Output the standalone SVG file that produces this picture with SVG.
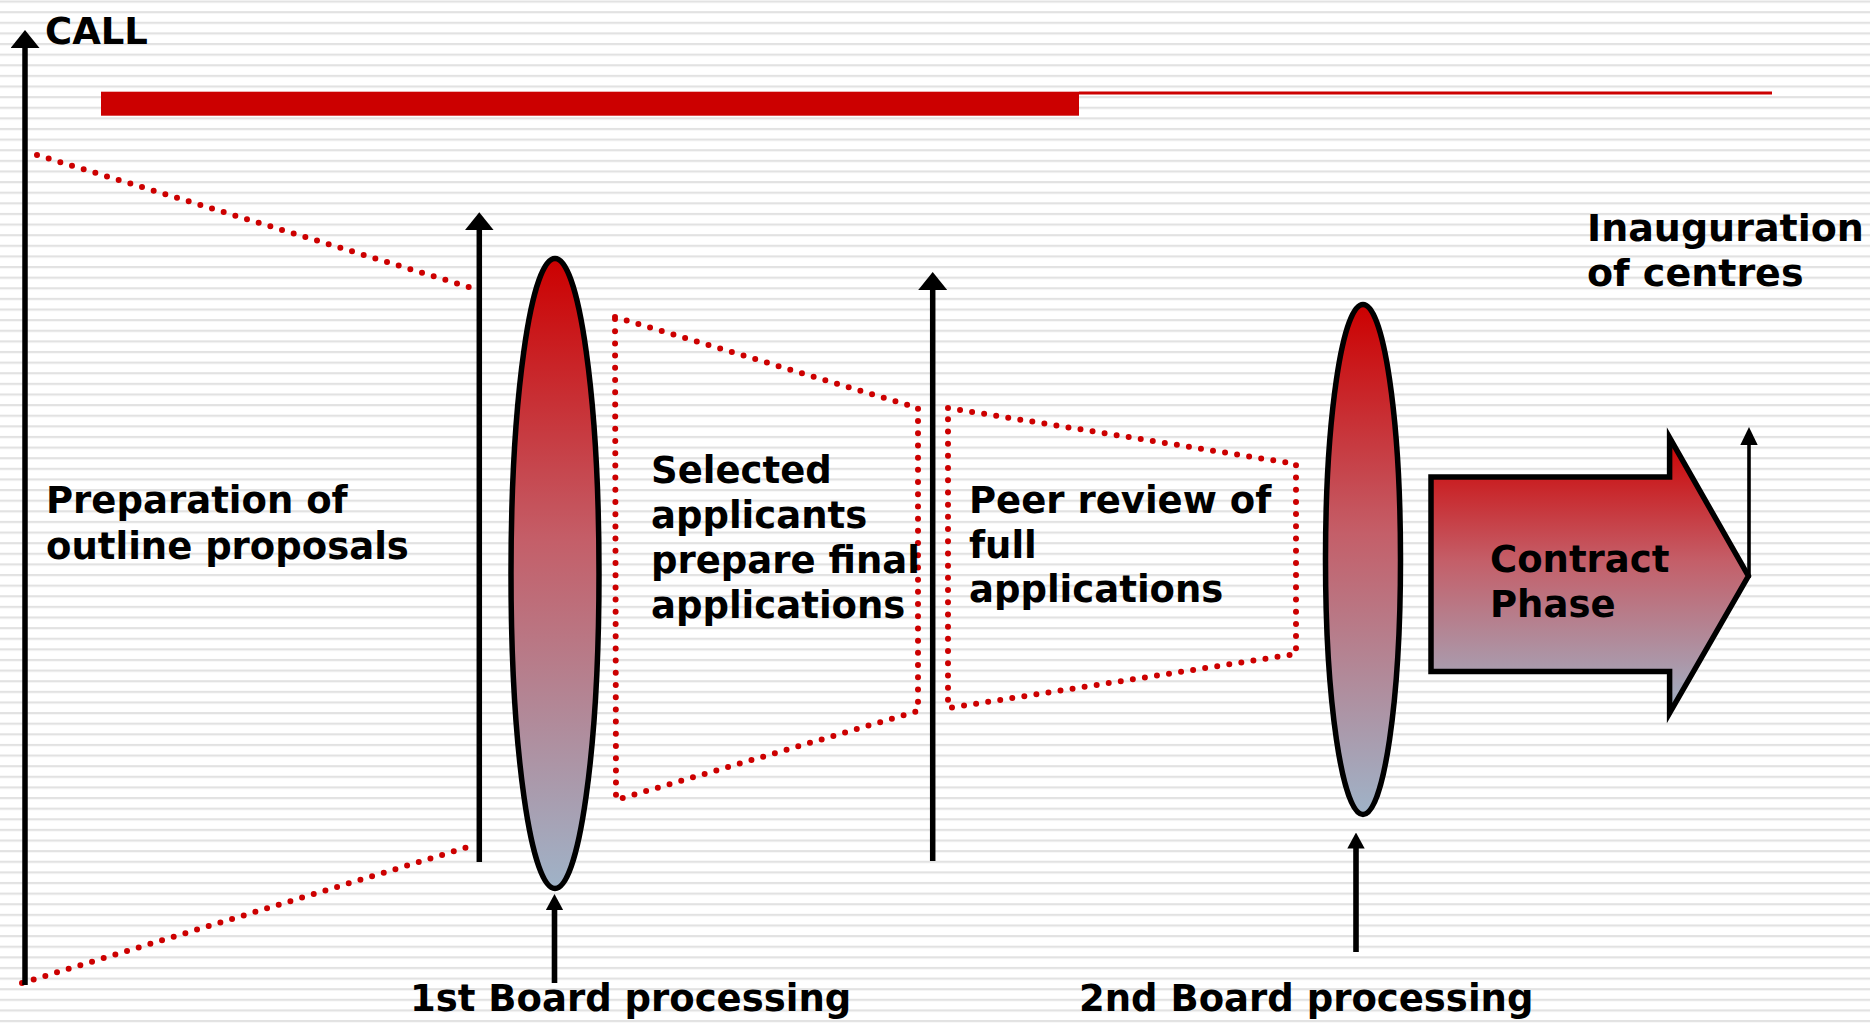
<svg xmlns="http://www.w3.org/2000/svg" width="1870" height="1024" viewBox="0 0 1870 1024">
  <defs>
    <pattern id="ruled" x="0" y="0.5" width="1870" height="10.62" patternUnits="userSpaceOnUse">
      <rect x="0" y="0" width="1870" height="2.2" fill="#e2e2e2"/>
    </pattern>
    <linearGradient id="fade" x1="0" y1="0" x2="0" y2="1">
      <stop offset="0" stop-color="#cc0000"/>
      <stop offset="0.45" stop-color="#c45f69"/>
      <stop offset="1" stop-color="#9fb3c8"/>
    </linearGradient>
    <marker id="headLarge" markerUnits="userSpaceOnUse" viewBox="0 0 18 29" markerWidth="18" markerHeight="29" refX="1" refY="14.5" orient="auto">
      <path d="M0,0 L18,14.5 L0,29 Z" fill="#000"/>
    </marker>
    <marker id="headSmall" markerUnits="userSpaceOnUse" viewBox="0 0 16 17.4" markerWidth="16" markerHeight="17.4" refX="1" refY="8.7" orient="auto">
      <path d="M0,0 L16,8.7 L0,17.4 Z" fill="#000"/>
    </marker>
    <marker id="headThin" markerUnits="userSpaceOnUse" viewBox="0 0 18 17.4" markerWidth="18" markerHeight="17.4" refX="1" refY="8.7" orient="auto">
      <path d="M0,0 L18,8.7 L0,17.4 Z" fill="#000"/>
    </marker>
  </defs>
  <style>
    text { font-family: "DejaVu Sans", Verdana, "Liberation Sans", sans-serif; font-weight: bold; font-size: 37px; fill: #000; }
    .dots { fill: none; stroke: #cc0000; stroke-width: 6; stroke-linecap: round; stroke-linejoin: round; stroke-dasharray: 0 12.2; }
    .axis { stroke: #000; stroke-width: 5.5; fill: none; }
    .pin { stroke: #000; stroke-width: 5.6; fill: none; }
    .lens { fill: url(#fade); stroke: #000; stroke-width: 5.5; }
  </style>

  <!-- ruled paper background -->
  <rect width="1870" height="1024" fill="#ffffff"/>
  <rect width="1870" height="1024" fill="url(#ruled)"/>

  <!-- timeline bar -->
  <g id="timeline">
    <rect x="101" y="91.7" width="978" height="24" fill="#cc0000"/>
    <rect x="1079" y="91.5" width="693" height="3" fill="#cc0000"/>
  </g>

  <!-- funnel outlines -->
  <g id="funnels">
    <polyline class="dots" points="37,155 472,288"/>
    <polyline class="dots" points="22,983 468,847"/>
    <polygon class="dots" points="615,317 918,408 918,711 616,800"/>
    <polygon class="dots" points="948,408 1296,464 1296,654 948,708"/>
  </g>

  <!-- connectors -->
  <g id="connectors">
    <line class="axis" x1="25" y1="985" x2="25" y2="47" marker-end="url(#headLarge)"/>
    <line class="axis" x1="479.3" y1="862" x2="479.3" y2="229.3" marker-end="url(#headLarge)"/>
    <line class="axis" x1="932.7" y1="861" x2="932.7" y2="289" marker-end="url(#headLarge)"/>
    <line class="pin" x1="554.5" y1="983" x2="554.5" y2="909" marker-end="url(#headSmall)"/>
    <line class="pin" x1="1356" y1="952" x2="1356" y2="847.5" marker-end="url(#headSmall)"/>
    <line stroke="#000" stroke-width="3.6" x1="1749" y1="578" x2="1749" y2="444" marker-end="url(#headThin)"/>
  </g>

  <g id="call">
    <text x="45" y="44">CALL</text>
  </g>

  <g id="outline-proposals">
    <text x="46" y="513">Preparation of</text>
    <text x="46" y="559">outline proposals</text>
  </g>

  <g id="board-1">
    <ellipse class="lens" cx="555" cy="573.5" rx="44" ry="315"/>
  </g>

  <g id="final-applications">
    <text x="651" y="483">Selected</text>
    <text x="651" y="528">applicants</text>
    <text x="651" y="573">prepare final</text>
    <text x="651" y="618">applications</text>
  </g>

  <g id="peer-review">
    <text x="969" y="513">Peer review of</text>
    <text x="969" y="558">full</text>
    <text x="969" y="602">applications</text>
  </g>

  <g id="board-2">
    <ellipse class="lens" cx="1363" cy="559.5" rx="37.5" ry="255"/>
  </g>

  <g id="contract-phase">
    <path d="M1431,477 H1669.6 V437.7 L1748.4,576 L1669.6,713 V671.4 H1431 Z" fill="url(#fade)" stroke="#000" stroke-width="5.5" stroke-miterlimit="10"/>
    <text x="1490" y="572">Contract</text>
    <text x="1490" y="617">Phase</text>
  </g>

  <g id="inauguration">
    <text x="1587" y="241" style="font-size:38px">Inauguration</text>
    <text x="1587" y="286" style="font-size:38px">of centres</text>
  </g>

  <g id="board-labels">
    <text x="410" y="1011">1st Board processing</text>
    <text x="1079" y="1011">2nd Board processing</text>
  </g>
</svg>
